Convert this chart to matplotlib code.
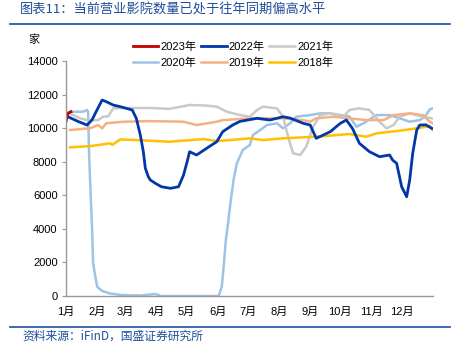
import matplotlib.pyplot as plt
from matplotlib.lines import Line2D

plt.rcParams['font.family'] = ['Liberation Sans', 'Noto Sans CJK SC', 'DejaVu Sans']

# day of year, value (家)
d2023 = [0, 2, 5]
v2023 = [10383, 10880, 10980]

d2022 = [2, 12, 21, 26, 30, 36, 40, 47, 54, 60, 66, 70, 74, 77, 79, 82, 84, 89, 95, 104,
         112, 117, 121, 123, 130, 140, 150, 156, 166, 173, 190, 203, 216, 223, 236, 243,
         249, 256, 263, 273, 279, 285, 292, 302, 312, 322, 325, 329, 334, 339, 342, 345,
         349, 352, 358, 364]
v2022 = [10680, 10400, 10186, 10500, 10980, 11676, 11580, 11378, 11280, 11180, 11080, 10585,
         9590, 8596, 7607, 7100, 6910, 6713, 6510, 6416, 6510, 7208, 8100, 8596, 8400, 8800,
         9190, 9790, 10190, 10400, 10585, 10484, 10680, 10600, 10290, 10185, 9394, 9590,
         9790, 10290, 10484, 9990, 9096, 8596, 8298, 8400, 8100, 7905, 6510, 5915, 6910,
         8500, 9890, 10186, 10200, 9990]

d2021 = [0, 14, 21, 27, 32, 37, 42, 47, 57, 84, 103, 123, 138, 150, 160, 173, 183, 190,
         196, 210, 216, 221, 226, 233, 239, 246, 253, 263, 276, 282, 292, 302, 312, 319,
         326, 332, 342, 355, 364]
v2021 = [10980, 10585, 10480, 10480, 10480, 10680, 10700, 11180, 11200, 11200, 11150,
         11380, 11350, 11280, 10980, 10780, 10680, 11080, 11280, 11180, 10680, 9490, 8500,
         8400, 8894, 10085, 10780, 10880, 10680, 11080, 11180, 11080, 10383, 9990, 10185,
         10680, 10880, 10680, 10585]

d2020 = [4, 17, 21, 22, 23, 24, 26, 27, 31, 36, 44, 55, 74, 89, 92, 94, 113, 152, 155,
         157, 159, 161, 164, 167, 170, 176, 183, 186, 191, 200, 210, 216, 223, 229, 243,
         253, 263, 273, 282, 289, 296, 309, 322, 332, 342, 352, 357, 362, 365]
v2020 = [10980, 10980, 11080, 11000, 8500, 6900, 4000, 1950, 554, 300, 150, 60, 30, 120,
         60, 0, 0, 0, 554, 1800, 3300, 4200, 5700, 7000, 7900, 8700, 9000, 9590, 9790,
         10185, 10290, 9990, 10290, 10680, 10780, 10880, 10880, 10780, 10700, 10085, 10290,
         10780, 10780, 10585, 10383, 10480, 10680, 11120, 11180]

d2019 = [4, 24, 32, 36, 40, 57, 84, 117, 130, 150, 156, 183, 216, 236, 243, 249, 266,
         282, 299, 316, 326, 342, 355, 362, 365]
v2019 = [9890, 9990, 10185, 9990, 10290, 10383, 10420, 10383, 10185, 10383, 10480, 10585,
         10585, 10480, 10383, 10585, 10680, 10585, 10480, 10480, 10780, 10880, 10780,
         10383, 10290]

d2018 = [4, 24, 44, 46, 54, 70, 103, 137, 150, 163, 183, 196, 216, 249, 282, 299, 309,
         332, 349, 362, 365]
v2018 = [8855, 8930, 9096, 9000, 9330, 9290, 9190, 9350, 9230, 9290, 9394, 9290, 9394,
         9490, 9650, 9490, 9690, 9850, 9990, 10127, 9890]

month_starts = [0, 31, 59, 90, 120, 151, 181, 212, 243, 273, 304, 334]
month_labels = [f'{i}月' for i in range(1, 13)]
yticks = [0, 2000, 4000, 6000, 8000, 10000, 12000, 14000]

series = [
    ('2020年', d2020, v2020, '#9DC3E6', 1.8),
    ('2021年', d2021, v2021, '#C9C9C9', 1.8),
    ('2019年', d2019, v2019, '#F4B183', 1.8),
    ('2018年', d2018, v2018, '#FFC000', 1.8),
    ('2022年', d2022, v2022, '#0038A8', 2.0),
    ('2023年', d2023, v2023, '#C00000', 2.0),
]

fig = plt.figure(figsize=(4.58, 3.61), dpi=100)
ax = fig.add_axes([0.144, 0.180, 0.801, 0.651])

handles = {}
for name, d, v, c, lw in series:
    ln, = ax.plot(d, v, color=c, lw=lw, solid_joinstyle='round')
    handles[name] = ln

ax.set_xlim(0, 365)
ax.set_ylim(0, 14000)
ax.set_yticks(yticks)
ax.set_yticklabels([str(t) for t in yticks], fontsize=8)
ax.set_xticks(month_starts)
ax.set_xticklabels(month_labels, fontsize=8)
ax.tick_params(axis='x', length=0, pad=8)
ax.tick_params(axis='y', length=3, width=0.8, color='#999999', pad=3)
for s in ['top', 'right']:
    ax.spines[s].set_visible(False)
for s in ['left', 'bottom']:
    ax.spines[s].set_color('#999999')
    ax.spines[s].set_linewidth(1.0)

order = ['2023年', '2020年', '2022年', '2019年', '2021年', '2018年']
leg = ax.legend([handles[k] for k in order], order, ncol=3, frameon=False,
                loc='center', bbox_to_anchor=(0.455, 1.026), fontsize=8,
                handlelength=2.3, handletextpad=0.2, columnspacing=0.4,
                labelspacing=0.5, borderpad=0)

fig.text(28 / 458, 1 - 40 / 361, '家', fontsize=8, ha='left', va='center',
         family=['Noto Sans CJK SC'])

# header and footer
fig.text(20 / 458, 1 - 10 / 361, '图表11：当前营业影院数量已处于往年同期偏高水平',
         fontsize=9.5, color='#1F4E9A', ha='left', va='center', style='italic',
         family=['Noto Sans CJK SC'])
fig.add_artist(Line2D([10 / 458, 450 / 458], [1 - 24 / 361, 1 - 24 / 361],
                      color='#2E5DA8', lw=1.3))
fig.add_artist(Line2D([10 / 458, 450 / 458], [1 - 327 / 361, 1 - 327 / 361],
                      color='#2E5DA8', lw=1.3))
fig.text(22 / 458, 1 - 336 / 361, '资料来源：iFinD，国盛证券研究所',
         fontsize=8.5, color='#1F4E9A', ha='left', va='center', style='italic',
         family=['Noto Sans CJK SC'])

fig.savefig('out.png', dpi=100)
